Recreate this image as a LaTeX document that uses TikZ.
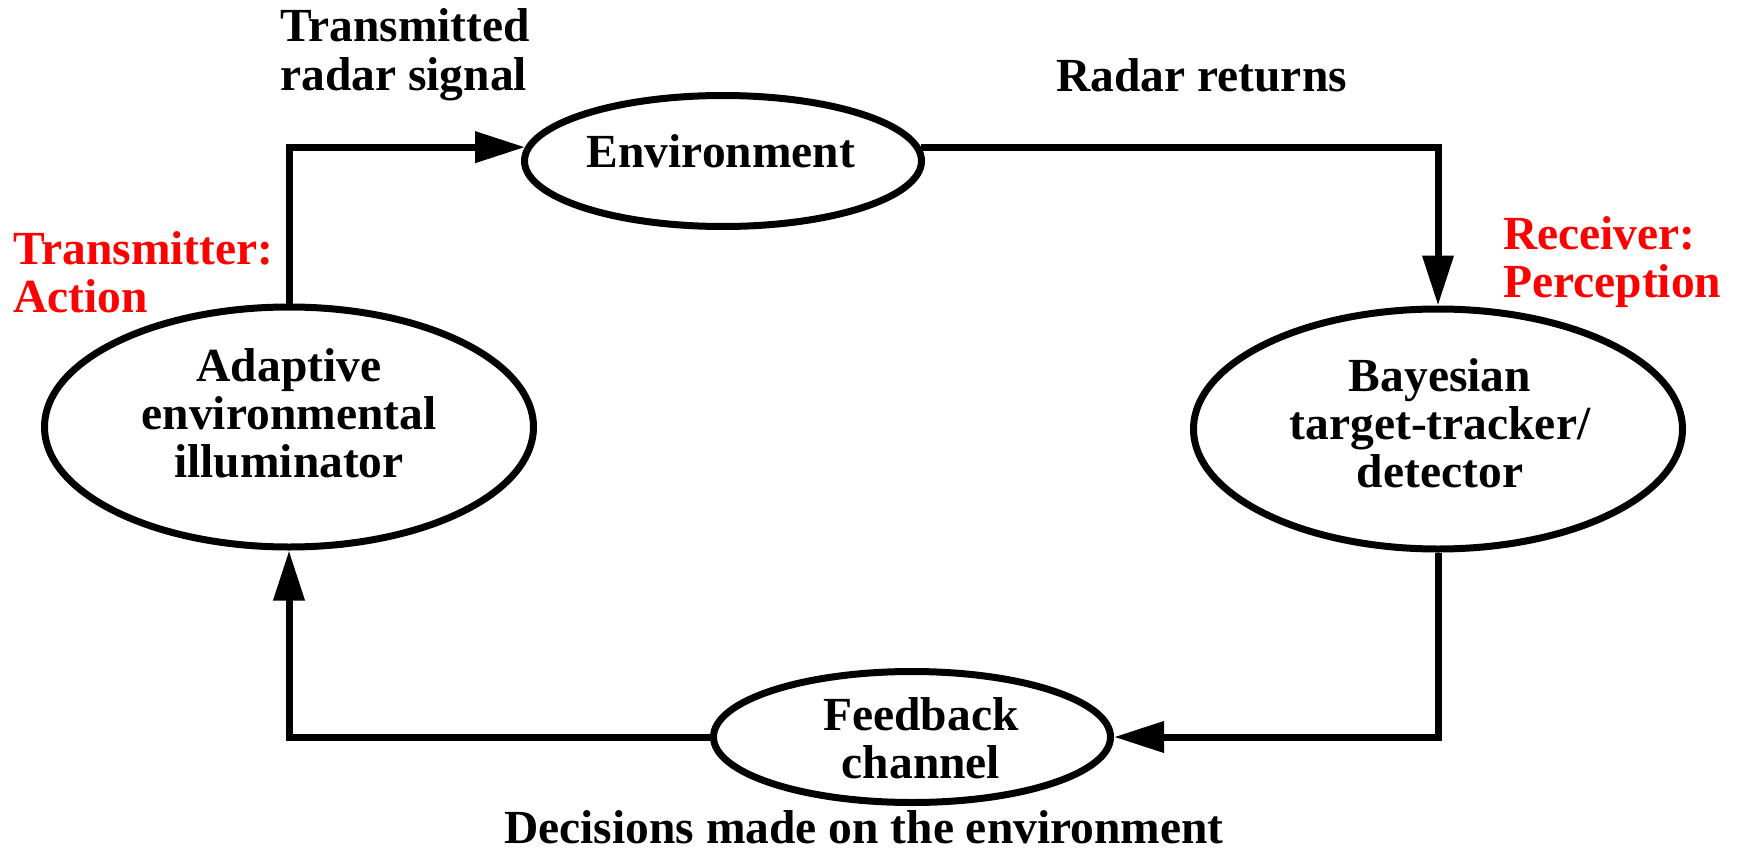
\documentclass[tikz,border=0pt]{standalone}
\usepackage{fontspec}
\setmainfont{Liberation Serif}
\usetikzlibrary{arrows.meta,shapes.geometric}
\definecolor{lblred}{RGB}{255,0,0}
\begin{document}
\begin{tikzpicture}[x=1pt,y=-1pt,
  oval/.style={draw, ellipse, line width=7pt, inner sep=0pt, minimum width=397pt, minimum height=131pt},
  bigoval/.style={draw, ellipse, line width=7pt, inner sep=0pt, minimum width=489pt, minimum height=240pt},
  txt/.style={inner sep=0pt, font=\bfseries\fontsize{47.5pt}{48pt}\selectfont},
  redtxt/.style={txt, text=lblred},
  conn/.style={line width=7pt, line join=miter, -{Triangle[length=50pt,width=30pt]}}]
\useasboundingbox (0,0) rectangle (1738,851);
% ellipses
\node[oval] (env) at (723,161) {};
\node[bigoval] (adapt) at (289,427) {};
\node[bigoval] (bayes) at (1438,429) {};
\node[oval] (feed) at (912,737) {};
% texts inside (base anchor = baseline of last line)
\node[txt, anchor=base] (envt) at (721,167) {Environment};
\node[txt, anchor=base, align=center] (adaptt) at (289,477) {Adaptive\\environmental\\illuminator};
\node[txt, anchor=base, align=center] (bayest) at (1440,487) {Bayesian\\target-tracker/\\detector};
\node[txt, anchor=base, align=center] (feedt) at (921,778) {Feedback\\channel};
% labels
\node[txt, anchor=base west, align=left] (txl) at (280,90) {Transmitted\\radar signal};
\node[txt, anchor=base west] (rrl) at (1056,92) {Radar returns};
\node[redtxt, anchor=base west, align=left] (trl) at (13,312) {Transmitter:\\Action};
\node[redtxt, anchor=base west, align=left] (rcl) at (1503,297) {Receiver:\\Perception};
\node[txt, anchor=base west] (decl) at (504,843) {Decisions made on the environment};
% connectors
\draw[conn] (adapt.north) |- (env.176);
\draw[conn] (env.4) -| (bayes.north);
\draw[conn] (bayes.south) |- (feed.east);
\draw[conn] (feed.west) -| (adapt.south);
\end{tikzpicture}
\end{document}
